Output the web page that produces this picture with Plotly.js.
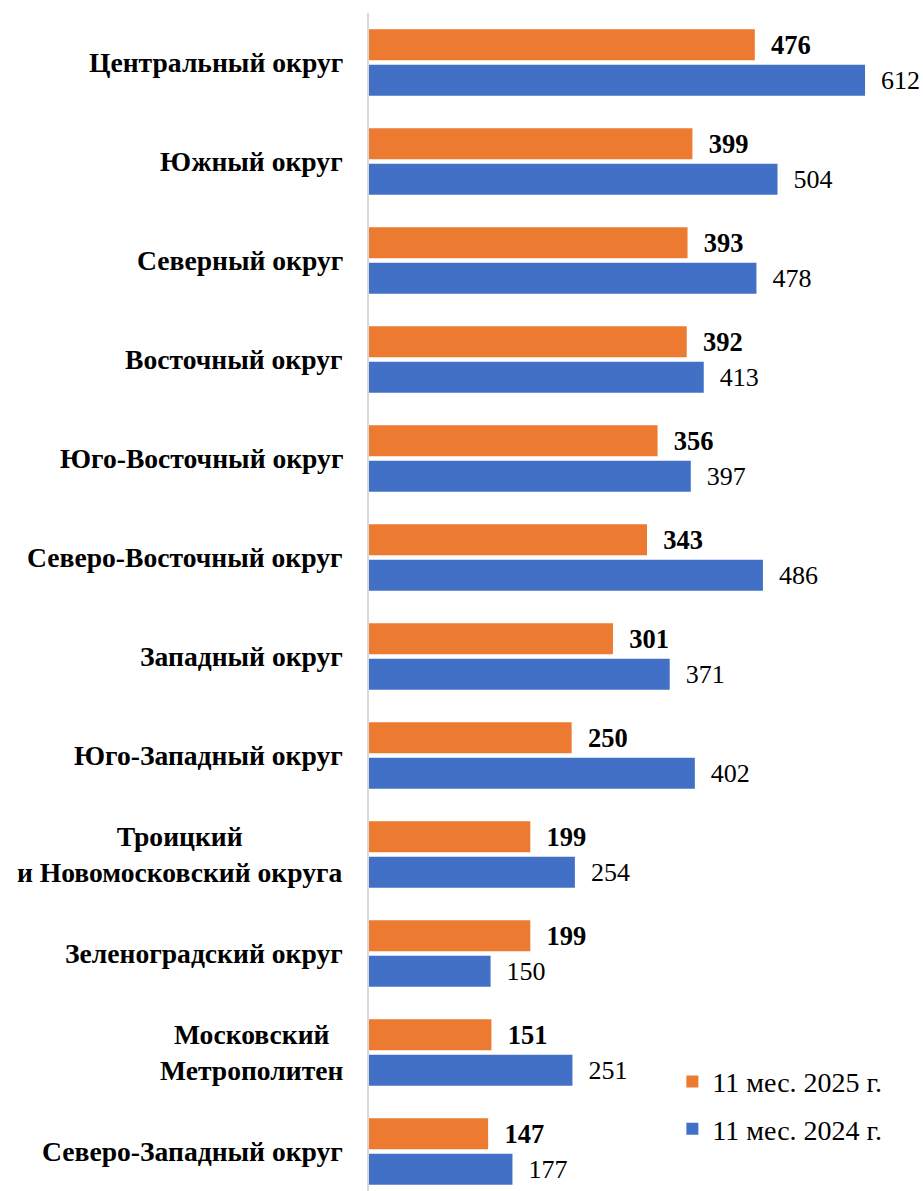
<!DOCTYPE html>
<html>
<head>
<meta charset="utf-8">
<script src="https://cdn.plot.ly/plotly-3.0.1.min.js"></script>
<style>
html,body{margin:0;padding:0;background:#fff;}
#chart{width:923px;height:1191px;}
</style>
</head>
<body>
<div id="chart"></div>
<script>
const categories = [
  "Центральный округ",
  "Южный округ",
  "Северный округ",
  "Восточный округ",
  "Юго-Восточный округ",
  "Северо-Восточный округ",
  "Западный округ",
  "Юго-Западный округ",
  "Троицкий<br>и Новомосковский округа",
  "Зеленоградский округ",
  "Московский<br>Метрополитен",
  "Северо-Западный округ"
];
const values2025 = [476, 399, 393, 392, 356, 343, 301, 250, 199, 199, 151, 147];
const values2024 = [612, 504, 478, 413, 397, 486, 371, 402, 254, 150, 251, 177];
const seriesNames = ["11 мес. 2025 г.", "11 мес. 2024 г."];

const FONT = "Liberation Serif";

const traces = [
  {
    type: "bar", orientation: "h", name: seriesNames[0], legendgroup: "a",
    y: categories, x: values2025,
    marker: {color: "#EC7A30"},
    text: values2025.map(v => "\u2002" + v),
    textposition: "outside", constraintext: "none", cliponaxis: false,
    textfont: {family: FONT, size: 26.5, color: "#000", weight: "bold"},
    hoverinfo: "x"
  },
  {
    type: "bar", orientation: "h", name: seriesNames[1], legendgroup: "b",
    y: categories, x: values2024,
    marker: {color: "#4170C6"},
    text: values2024.map(v => "\u2002" + v),
    textposition: "outside", constraintext: "none", cliponaxis: false,
    textfont: {family: FONT, size: 26, color: "#000"},
    hoverinfo: "x"
  }
];

const annotations = categories.map(c => ({
  xref: "paper", yref: "y", x: 0, y: c,
  xanchor: "right", yanchor: "middle", xshift: -24,
  text: c, showarrow: false, align: "center",
  font: {family: FONT, size: 27.6, color: "#000", weight: "bold"}
}));

const layout = {
  width: 923, height: 1191,
  margin: {l: 369, r: 0, t: 13, b: 0},
  paper_bgcolor: "#fff", plot_bgcolor: "#fff",
  barmode: "group", bargap: 0.283, bargroupgap: 0.127,
  showlegend: true,
  legend: {
    x: 0.5476, xanchor: "left", y: 0.114, yanchor: "top",
    font: {family: FONT, size: 28, color: "#000"},
    tracegroupgap: 8, bgcolor: "rgba(0,0,0,0)"
  },
  xaxis: {
    range: [0, 683.5], showticklabels: false, showgrid: false,
    zeroline: false, showline: false, ticks: ""
  },
  yaxis: {
    type: "category", categoryorder: "array", categoryarray: categories,
    range: [11.4, -0.5], showticklabels: false, showgrid: false,
    zeroline: false, showline: true, linecolor: "#d9d9d9", linewidth: 2, ticks: ""
  },
  annotations: annotations,
  font: {family: FONT}
};

Plotly.newPlot("chart", traces, layout, {displayModeBar: false, staticPlot: true});
</script>
</body>
</html>
